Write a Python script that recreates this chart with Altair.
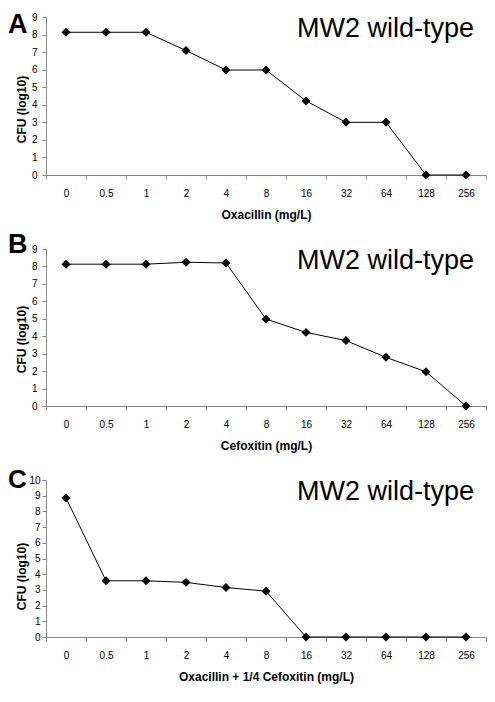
import altair as alt
import pandas as pd

concs = ["0", "0.5", "1", "2", "4", "8", "16", "32", "64", "128", "256"]
cfu_a = [8.13, 8.13, 8.13, 7.09, 5.98, 5.98, 4.22, 3.0, 3.0, 0.0, 0.0]
cfu_b = [8.13, 8.13, 8.13, 8.24, 8.2, 4.98, 4.22, 3.75, 2.79, 1.96, 0.0]
cfu_c = [8.86, 3.58, 3.58, 3.48, 3.15, 2.92, 0.0, 0.0, 0.0, 0.0, 0.0]
x_titles = ["Oxacillin (mg/L)", "Cefoxitin (mg/L)", "Oxacillin + 1/4 Cefoxitin (mg/L)"]
letters = ["A", "B", "C"]
strain = "MW2 wild-type"
y_max = [9, 9, 10]
y_title = "CFU (log10)"

FONT = "Liberation Sans"
PLOT_W = 440


def panel(vals, xtitle, letter, ymax, height, ytitle_y, letter_y, xtitle_y,
          letter_size=27, ylab_pad=5):
    df = pd.DataFrame({"conc": concs, "cfu": vals})
    x = alt.X(
        "conc:N", sort=concs, bandPosition=0.5,
        scale=alt.Scale(type="band", paddingInner=0, paddingOuter=0),
        axis=alt.Axis(title=xtitle, labelAngle=0, tickBand="extent", tickSize=4,
                      labelPadding=9, titleY=xtitle_y, titleBaseline="alphabetic"),
    )
    y = alt.Y(
        "cfu:Q",
        scale=alt.Scale(domain=[0, ymax], nice=False, zero=True),
        axis=alt.Axis(title=y_title, values=list(range(ymax + 1)), tickSize=4,
                      labelPadding=ylab_pad, titleX=-25, titleY=ytitle_y, titleAngle=270,
                      titleBaseline="middle", titleAlign="center"),
    )
    line = alt.Chart(df).mark_line(color="black", strokeWidth=1).encode(x=x, y=y)
    pts = alt.Chart(df).mark_point(shape="diamond", filled=True, size=80,
                                   color="black", opacity=1).encode(x=x, y=y)
    lab = alt.Chart(pd.DataFrame({"t": [letter]})).mark_text(
        font=FONT, fontSize=letter_size, fontWeight="bold", align="left",
        baseline="alphabetic", color="black"
    ).encode(text="t:N", x=alt.value(-38), y=alt.value(letter_y))
    mw = alt.Chart(pd.DataFrame({"t": [strain]})).mark_text(
        font=FONT, fontSize=27, align="right", baseline="alphabetic", color="black"
    ).encode(text="t:N", x=alt.value(428), y=alt.value(20))
    return alt.layer(line, pts, lab, mw).properties(width=PLOT_W, height=height)


pa = panel(cfu_a, x_titles[0], letters[0], y_max[0], 158, 92, 16, 43)
pb = panel(cfu_b, x_titles[1], letters[1], y_max[1], 157, 90, 4, 43)
pc = panel(cfu_c, x_titles[2], letters[2], y_max[2], 157, 96, 8, 43,
           letter_size=26, ylab_pad=2)

chart = (
    alt.vconcat(pa, pb, pc, spacing=74, bounds="flush")
    .properties(padding={"left": 0, "right": 0, "top": 3, "bottom": 3},
                background="white")
    .configure_view(stroke=None)
    .configure_axis(
        grid=False,
        domainColor="#888888",
        tickColor="#888888",
        labelColor="black",
        labelFont=FONT,
        labelFontSize=10,
        titleFont=FONT,
        titleFontSize=12,
        titleFontWeight="bold",
        titleColor="black",
    )
)

chart.save("out.html", embed_options={"renderer": "svg", "actions": False})
